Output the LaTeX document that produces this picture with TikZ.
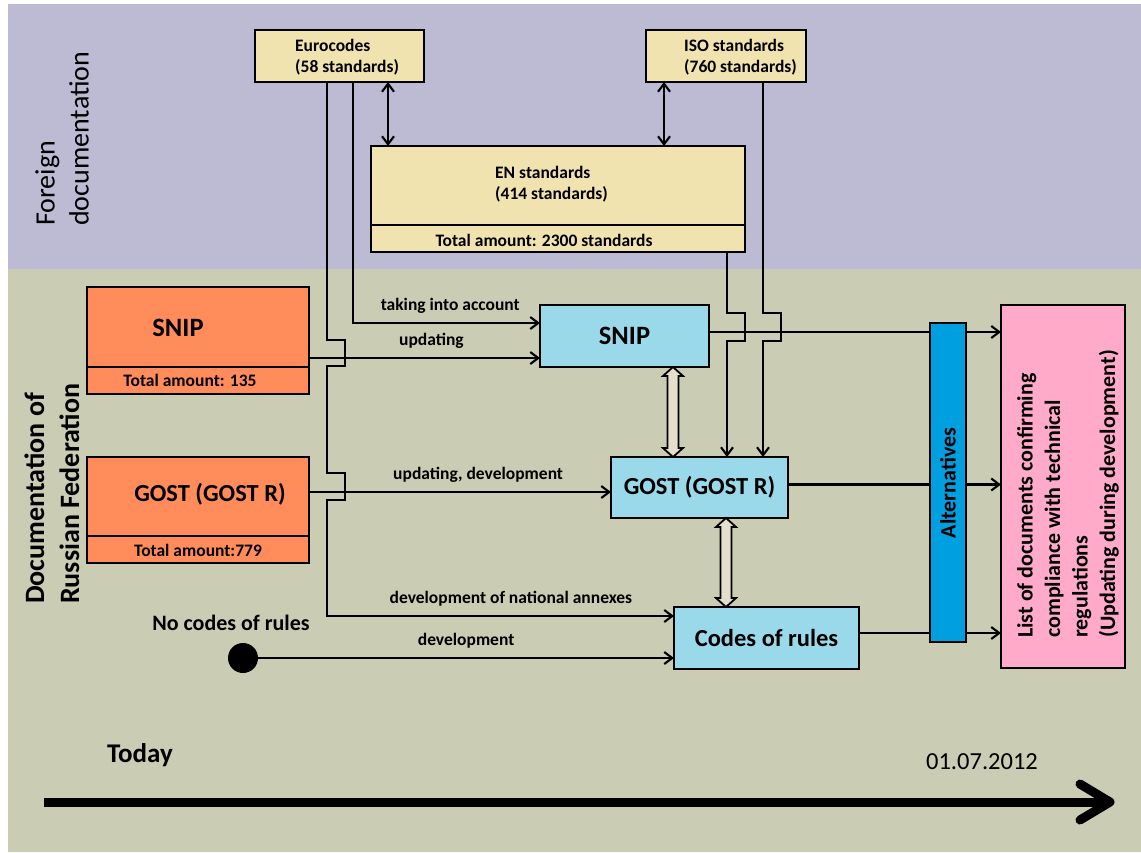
\documentclass[tikz,border=0pt]{standalone}
\usepackage{fontspec}
\setmainfont{Carlito}
\usetikzlibrary{arrows.meta,calc}
\definecolor{bgtop}{HTML}{BDBBD3}
\definecolor{bgbot}{HTML}{CACDB4}
\definecolor{ybox}{HTML}{F0E3AF}
\definecolor{obox}{HTML}{FF8C5A}
\definecolor{bbox}{HTML}{9AD9EA}
\definecolor{abar}{HTML}{00A0E0}
\definecolor{pbox}{HTML}{FFAAC8}
\definecolor{harrow}{HTML}{E4DFCB}
\newcommand\fsmall{\fontsize{17.5}{21}\selectfont\bfseries}
\newcommand\ftitle{\fontsize{24.5}{28}\selectfont\bfseries}
\newcommand\hollowarr[2]{%
  \filldraw[harr] let \p1=(#1), \p2=(#2) in
    (\x1,\y1) -- (\x1+10pt,\y1-9pt) -- (\x1+5.5pt,\y1-9pt) -- (\x1+5.5pt,\y2+9pt)
    -- (\x1+10pt,\y2+9pt) -- (\x1,\y2) -- (\x1-10pt,\y2+9pt) -- (\x1-5.5pt,\y2+9pt)
    -- (\x1-5.5pt,\y1-9pt) -- (\x1-10pt,\y1-9pt) -- cycle;}
\tikzset{
  bx/.style={draw=black, line width=2.6pt, inner sep=0pt, outer sep=0pt},
  ybx/.style={bx, fill=ybox},
  obx/.style={bx, fill=obox},
  bbx/.style={bx, fill=bbox, font=\ftitle},
  conn/.style={line width=2.1pt, -{Straight Barb[length=8pt,width=12pt]}},
  dblarr/.style={line width=2.1pt, {Straight Barb[length=8pt,width=12pt]}-{Straight Barb[length=8pt,width=12pt]}},
  divl/.style={line width=2.6pt},
  lbl/.style={font=\fsmall, inner sep=0pt, text depth=4pt},
  txt/.style={font=\fsmall, inner sep=0pt, align=left},
  ttl/.style={font=\ftitle, inner sep=0pt},
  harr/.style={draw=black, line width=1.8pt, fill=harrow, line join=miter},
}
\begin{document}
\begin{tikzpicture}[x=1pt,y=-1pt]
\useasboundingbox (0,0) rectangle (1141,852);
\fill[white] (0,0) rectangle (1141,852);
\fill[bgtop] (8,4) rectangle (1141,269);
\fill[bgbot] (8,269) rectangle (1141,852);

% side labels
\node[rotate=90, anchor=west, align=left, inner sep=0pt, font=\fontsize{28}{34}\selectfont] (lfor) at (62,226) {Foreign\\documentation};
\node[rotate=90, anchor=west, align=left, inner sep=0pt, font=\fontsize{28}{35}\selectfont\bfseries] (lrus) at (52,604) {Documentation of\\Russian Federation};

% foreign boxes
\node[ybx, minimum width=169pt, minimum height=52pt] (euro) at (339.5,56) {};
\node[txt, anchor=west] (eurot) at (295,57.5) {Eurocodes\\(58 standards)};
\node[ybx, minimum width=160pt, minimum height=52pt] (iso) at (726,56) {};
\node[txt, anchor=west] (isot) at (684,57.5) {ISO standards\\(760 standards)};
\node[ybx, minimum width=374pt, minimum height=106pt] (en) at (558,199) {};
\draw[divl] ($(en.south west)+(0,-27)$) -- ($(en.south east)+(0,-27)$);
\node[txt, anchor=west] (ent) at (495,184) {EN standards\\(414 standards)};
\node[txt] (entot) at (544,240) {Total amount: 2300 standards};

% russian boxes
\node[obx, minimum width=222pt, minimum height=107pt] (osnip) at (198,340.5) {};
\draw[divl] ($(osnip.south west)+(0,-27)$) -- ($(osnip.south east)+(0,-27)$);
\node[ttl, font=\fontsize{26.5}{30}\selectfont\bfseries] (osnipt) at (178,328) {SNIP};
\node[txt] (osniptot) at (190,380) {Total amount: 135};
\node[obx, minimum width=222pt, minimum height=106pt] (ogost) at (198,510) {};
\draw[divl] ($(ogost.south west)+(0,-27)$) -- ($(ogost.south east)+(0,-27)$);
\node[ttl] (ogostt) at (210,494) {GOST (GOST R)};
\node[txt] (ogosttot) at (198,550) {Total amount:779};

% target boxes
\node[bbx, minimum width=169pt, minimum height=62pt, font=\fontsize{26.5}{30}\selectfont\bfseries] (snipb) at (624.5,336) {SNIP};
\node[bbx, minimum width=177pt, minimum height=61pt] (gostb) at (699.5,487.5) {GOST (GOST R)};
\node[bbx, minimum width=185pt, minimum height=62pt] (codes) at (766.5,638) {Codes of rules};
\node[bx, fill=pbox, minimum width=124pt, minimum height=363pt] (pink) at (1063,486.5) {};
\node[rotate=90, anchor=west, align=left, inner sep=0pt, font=\fontsize{22}{27.5}\selectfont\bfseries] (pinkt) at (1068,638) {List of documents confirming\\compliance with technical\\regulations\\(Updating during development)};

% no codes
\node[circle, fill=black, minimum size=30pt, inner sep=0pt] (dot) at (243,658) {};
\node[inner sep=0pt, font=\fontsize{22}{26}\selectfont\bfseries] (noc) at (231,623) {No codes of rules};

% connectors from top
\draw[dblarr] ($(euro.south east)+(-36,0)$) coordinate (d1) -- (d1 |- en.north);
\draw[dblarr] ($(iso.south west)+(18,0)$) coordinate (d2) -- (d2 |- en.north);

\draw[conn] ($(euro.south west)+(98,0)$) |- ($(snipb.north west)+(0,18)$)
  node[lbl, pos=0.76, above=7pt] {taking into account};
\draw[conn] ($(euro.south west)+(72,0)$) -- (327,340) -- (345,340) -- (345,366) -- (327,366)
  -- (327,473) -- (345,473) -- (345,500) -- (327,500) -- (327,616)
  -- node[lbl, pos=0.53, above=7pt] {development of national annexes} ($(codes.north west)+(0,9)$);

\draw[conn] ($(osnip.north east)+(0,71)$) coordinate (u1) -- node[lbl, pos=0.53, above=7pt] {updating} (u1 -| snipb.west);
\draw[conn] ($(ogost.north east)+(0,35)$) coordinate (u2) -- node[lbl, pos=0.56, above=7pt] {updating, development} (u2 -| gostb.west);
\draw[conn] (dot.east) -- node[lbl, pos=0.5, above=7pt] {development} (dot.east -| codes.west);

\draw[conn] ($(en.south west)+(356,0)$) -- ++(0,61) -- ++(18,0) -- ++(0,28) -- ++(-18,0) coordinate (j1) -- (j1 |- gostb.north);
\draw[conn] ($(iso.south west)+(117,0)$) -- ++(0,231) -- ++(18,0) -- ++(0,28) -- ++(-18,0) coordinate (j2) -- (j2 |- gostb.north);

% outputs
\draw[conn] ($(snipb.north east)+(0,27)$) coordinate (o1) -- (o1 -| pink.west);
\draw[conn] ($(gostb.east)+(0,-3)$) coordinate (o2) -- (o2 -| pink.west);
\draw[conn] ($(codes.east)+(0,-5)$) coordinate (o3) -- (o3 -| pink.west);

\node[bx, fill=abar, minimum width=36pt, minimum height=319pt] (alt) at (948,482.5) {};
\node[rotate=90, inner sep=0pt, font=\fontsize{22}{26}\selectfont\bfseries] (altt) at (948,483) {Alternatives};

% hollow double arrows
\coordinate (h1) at (673,0);
\coordinate (h2) at (726,0);
\hollowarr{h1 |- snipb.south}{h1 |- gostb.north}
\hollowarr{h2 |- gostb.south}{h2 |- codes.north}

% timeline
\node[inner sep=0pt, font=\fontsize{27}{32}\selectfont\bfseries] (today) at (140,755) {Today};
\node[inner sep=0pt, font=\fontsize{24.5}{28}\selectfont] (date) at (982,762) {01.07.2012};
\coordinate (t0) at (44,802);
\coordinate (t1) at (1110,802);
\draw[line width=9pt] (t0) -- (t1);
\draw[line width=9pt, line cap=round, line join=round] ($(t1)+(-30,-18)$) -- (t1) -- ($(t1)+(-30,18)$);
\end{tikzpicture}
\end{document}
